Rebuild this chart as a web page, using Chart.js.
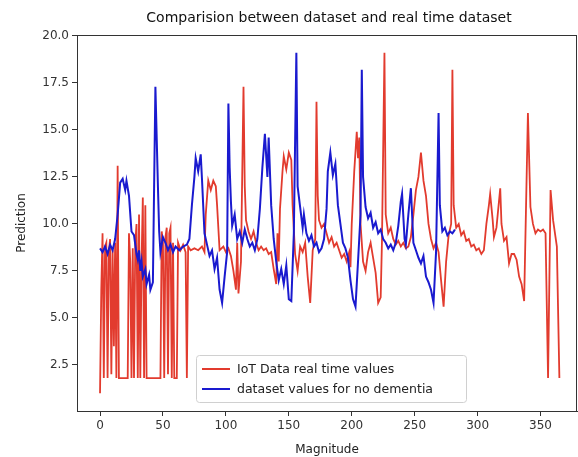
<!DOCTYPE html>
<html><head><meta charset="utf-8">
<script src="https://cdn.jsdelivr.net/npm/chart.js@4.4.1/dist/chart.umd.min.js"></script>
<style>html,body{margin:0;padding:0;background:#fff}</style>
</head><body>
<canvas id="c" width="578" height="457"></canvas>
<script>
const titleText = "Comparision between dataset and real time dataset";
const xTitle = "Magnitude";
const yTitle = "Prediction";
const redLabel = "IoT Data real time values";
const blueLabel = "dataset values for no dementia";
const xTicks = [0, 50, 100, 150, 200, 250, 300, 350];
const yTicks = [2.5, 5.0, 7.5, 10.0, 12.5, 15.0, 17.5, 20.0];

const redX = [0,1,2,3,4,5,6,7,8,9,10,11,12,13,14,15,22,23,24,25,26,27,28,29,30,31,32,33,34,35,36,37,48,49,50,51,52,53,54,55,56,57,58,59,61,62,64,66,68,69,70,72,75,78,81,83,84,86,88,90,92,93,95,98,100,102,104,106,108,109,110,112,114,115,116,118,120,122,124,126,128,130,132,134,136,138,140,141,142,143,145,146,148,150,152,153,155,157,159,161,163,165,167,169,171,172,173,174,176,178,180,182,184,186,188,190,192,194,196,198,199,200,202,204,205,206,207,209,211,213,215,217,219,221,223,224,226,227,229,231,233,235,237,239,241,243,245,247,249,251,253,255,257,259,261,263,265,267,269,271,273,275,277,279,280,281,283,285,287,289,291,293,295,297,299,301,303,305,307,309,310,312,313,315,318,319,321,323,325,327,329,331,333,335,337,340,342,344,346,348,350,352,354,356,358,360,363,365];
const redY = [1.0,6.5,9.5,1.8,8.8,9.0,1.8,8.5,9.2,2.0,8.6,3.5,9.0,1.8,13.1,1.8,1.8,9.5,8.0,1.8,8.7,1.8,9.0,10.0,1.8,10.5,1.8,8.0,11.4,1.8,11.0,1.8,1.8,9.6,9.0,1.8,9.3,9.8,2.0,9.5,9.8,1.8,9.0,1.8,1.8,9.0,8.6,8.9,8.5,1.8,8.8,8.6,8.7,8.6,8.8,8.5,10.5,12.3,11.8,12.3,12.0,11.0,8.6,8.8,8.5,8.7,8.3,7.5,6.5,9.0,6.3,8.0,17.3,12.0,10.2,9.6,9.2,9.6,9.0,8.6,8.8,8.6,8.7,8.4,8.5,7.6,6.8,9.5,8.0,10.8,12.8,13.6,12.9,13.8,13.4,11.0,8.4,7.5,8.8,8.5,9.0,7.2,5.8,8.6,9.2,16.5,11.5,10.2,9.8,10.0,9.5,9.0,9.3,8.8,9.0,8.6,8.2,8.4,8.0,8.5,7.7,10.0,12.8,14.9,13.5,14.6,10.0,8.0,7.5,8.5,9.0,8.2,7.4,5.8,6.1,9.0,19.1,10.5,9.5,9.8,9.2,8.9,9.1,8.8,9.0,8.7,8.8,9.3,10.5,11.8,12.5,13.8,12.3,11.5,10.0,9.2,8.7,9.0,8.5,7.0,5.6,8.0,9.4,10.0,18.2,11.0,9.8,10.0,9.4,9.6,9.1,9.2,8.8,8.9,8.6,8.7,8.4,8.6,10.0,11.0,11.6,10.2,9.3,9.8,11.9,10.0,9.1,9.3,7.9,8.4,8.4,8.1,7.2,6.8,5.9,15.9,10.9,10.0,9.5,9.7,9.6,9.7,9.5,1.8,11.8,10.2,8.8,1.8];

const blueX = [0,2,4,6,8,10,12,14,16,18,20,21,23,25,27,29,30,31,32,33,34,36,37,39,40,42,44,46,47,48,50,52,54,56,58,60,63,66,69,71,73,75,76,78,80,81,83,85,87,89,91,93,95,97,99,101,102,103,104,105,107,109,111,113,115,117,119,121,123,125,127,129,131,133,134,136,138,140,142,144,146,148,150,152,154,156,157,159,161,162,164,166,168,170,172,174,176,178,180,181,183,185,187,189,191,193,195,197,199,201,203,205,207,208,209,211,213,215,217,219,221,223,225,227,229,231,233,235,237,239,240,242,243,245,247,249,251,253,255,257,259,261,263,265,267,269,270,272,274,276,278,280,282];
const blueY = [8.7,8.5,8.8,8.4,8.9,8.6,9.2,10.5,12.2,12.4,11.8,12.3,11.5,9.6,9.4,8.4,8.1,8.6,7.5,8.0,7.2,7.6,6.8,7.3,6.5,6.9,17.3,12.0,9.6,8.5,9.3,9.0,8.6,8.9,8.5,8.8,8.6,8.8,8.9,9.2,11.0,12.5,13.5,12.8,13.7,12.4,9.5,8.9,8.3,8.6,7.6,8.2,6.5,5.8,7.2,8.5,16.4,13.0,11.2,9.9,10.5,9.2,9.6,9.0,9.7,9.2,8.8,9.0,8.6,9.2,10.8,13.0,14.8,12.5,14.6,11.0,9.2,8.0,7.0,7.6,6.8,7.8,6.0,5.9,9.5,19.1,12.0,10.9,9.8,10.5,9.5,9.1,9.4,8.8,9.0,8.5,8.7,9.2,10.8,12.8,13.8,12.6,13.2,11.0,10.0,9.0,8.7,8.2,7.0,6.0,5.6,8.0,10.5,18.2,12.5,10.9,10.3,10.6,9.8,10.1,9.5,9.7,9.2,9.0,8.7,8.9,8.6,9.0,9.9,11.2,11.6,9.2,8.9,10.5,11.9,9.0,8.6,8.2,7.9,8.3,7.2,6.9,6.5,5.8,8.5,15.9,11.0,9.6,9.8,9.4,9.6,9.5,9.7];

const redColor = '#e23b2e';
const blueColor = '#1a1acf';
const toPts = (xs, ys) => xs.map((x, i) => ({x: x, y: ys[i]}));

const FONT = 'DejaVu Sans';
const decor = {
  id: 'decor',
  afterDraw(chart) {
    const ctx = chart.ctx, a = chart.chartArea;
    ctx.save();
    ctx.strokeStyle = '#333';
    ctx.lineWidth = 1;
    ctx.strokeRect(a.left + 0.5, a.top + 0.5, a.right - a.left - 1, a.bottom - a.top);
    ctx.fillStyle = '#111';
    ctx.font = '14px "' + FONT + '"';
    ctx.textAlign = 'center';
    ctx.textBaseline = 'middle';
    ctx.fillText(titleText, (a.left + a.right) / 2 + 2, 18);
    const bx = 196, by = 355, bw = 270, bh = 47;
    ctx.fillStyle = 'rgba(255,255,255,0.8)';
    ctx.strokeStyle = '#d0d0d0';
    ctx.beginPath();
    ctx.roundRect(bx + 0.5, by + 0.5, bw, bh, 3);
    ctx.fill(); ctx.stroke();
    const rows = [[redLabel, redColor], [blueLabel, blueColor]];
    ctx.font = '12.5px "' + FONT + '"';
    ctx.textAlign = 'left';
    rows.forEach((r, i) => {
      const yy = by + 14 + i * 20;
      ctx.strokeStyle = r[1];
      ctx.lineWidth = 2;
      ctx.beginPath(); ctx.moveTo(bx + 6, yy); ctx.lineTo(bx + 34, yy); ctx.stroke();
      ctx.fillStyle = '#222';
      ctx.fillText(r[0], bx + 41, yy + 1);
    });
    ctx.restore();
  }
};

new Chart(document.getElementById('c'), {
  type: 'line',
  data: {
    datasets: [
      {label: redLabel, data: toPts(redX, redY), borderColor: redColor, borderWidth: 1.8, pointRadius: 0, tension: 0, order: 1},
      {label: blueLabel, data: toPts(blueX, blueY), borderColor: blueColor, borderWidth: 2.0, pointRadius: 0, tension: 0, order: 0}
    ]
  },
  options: {
    responsive: false,
    animation: false,
    devicePixelRatio: 1,
    layout: {padding: {top: 35, right: 1, left: 0, bottom: 0}},
    plugins: {legend: {display: false}, title: {display: false}, tooltip: {enabled: false}},
    scales: {
      x: {
        type: 'linear', min: -18.3, max: 379,
        afterBuildTicks: s => { s.ticks = xTicks.map(v => ({value: v})); },
        afterFit: s => { s.height = 46; },
        ticks: {autoSkip: false, maxRotation: 0, color: '#333', font: {family: FONT, size: 12}, padding: 3},
        grid: {display: true, drawOnChartArea: false, drawTicks: true, tickLength: 5, color: '#333'},
        border: {display: true, color: '#333'},
        title: {display: true, text: xTitle, color: '#222', font: {family: FONT, size: 12}, padding: {top: 0, bottom: 0}}
      },
      y: {
        type: 'linear', min: 0.05, max: 20.05,
        afterBuildTicks: s => { s.ticks = yTicks.map(v => ({value: v})); },
        afterFit: s => { s.width = 77; },
        ticks: {color: '#333', font: {family: FONT, size: 12}, padding: 3, callback: v => Number(v).toFixed(1)},
        grid: {display: true, drawOnChartArea: false, drawTicks: true, tickLength: 5, color: '#333'},
        border: {display: true, color: '#333'},
        title: {display: true, text: yTitle, color: '#222', font: {family: FONT, size: 12}, padding: {top: 15, bottom: 0}}
      }
    }
  },
  plugins: [decor]
});
</script>
</body></html>
